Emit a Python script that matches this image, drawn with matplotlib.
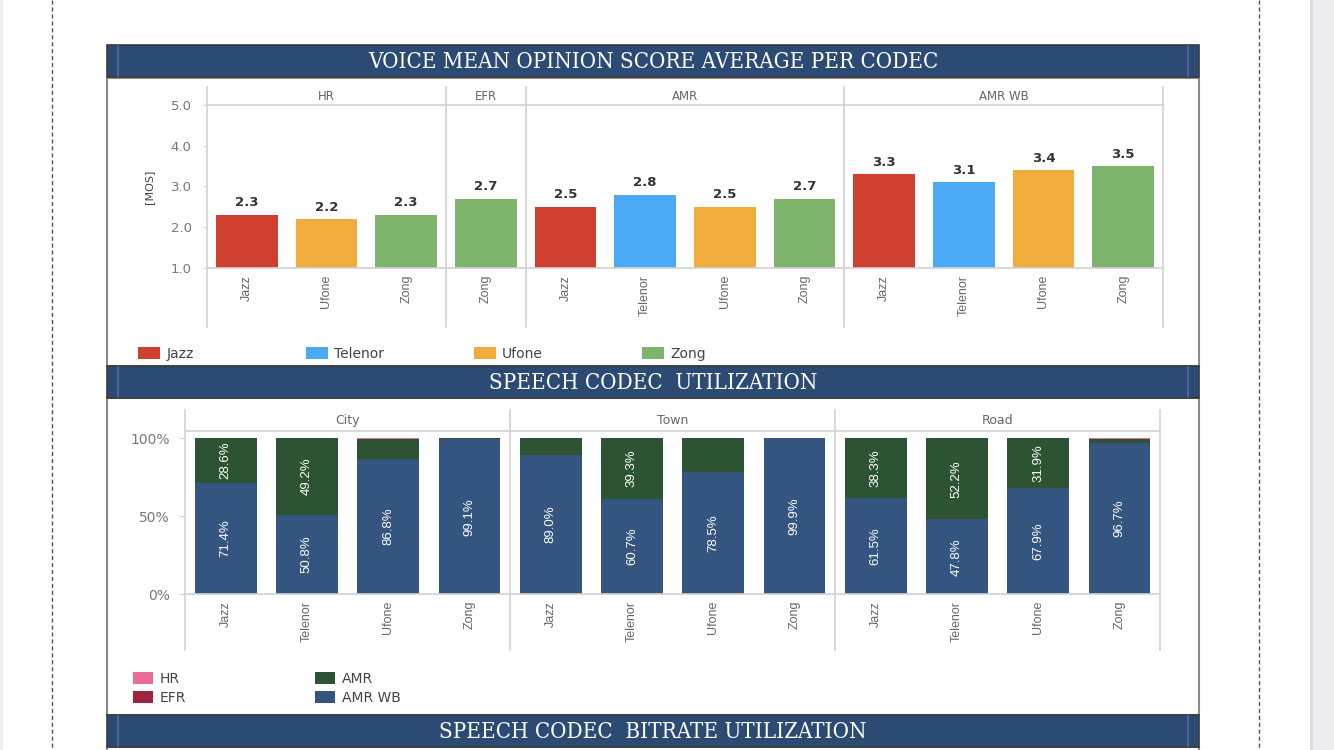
import matplotlib
matplotlib.use('Agg')
import matplotlib.pyplot as plt
import matplotlib.transforms as mtransforms
from matplotlib.patches import Rectangle, Patch
from matplotlib.lines import Line2D
import numpy as np

# ---------------- data ----------------
mos_codecs = ['HR', 'EFR', 'AMR', 'AMR WB']
mos_operators = [['Jazz', 'Ufone', 'Zong'],
                 ['Zong'],
                 ['Jazz', 'Telenor', 'Ufone', 'Zong'],
                 ['Jazz', 'Telenor', 'Ufone', 'Zong']]
mos_values = [[2.3, 2.2, 2.3],
              [2.7],
              [2.5, 2.8, 2.5, 2.7],
              [3.3, 3.1, 3.4, 3.5]]
mos_yticks = [1.0, 2.0, 3.0, 4.0, 5.0]

operators = ['Jazz', 'Telenor', 'Ufone', 'Zong']
op_colors = ['#cf4030', '#4ba9f6', '#f1ac3e', '#7fb46c']

environments = ['City', 'Town', 'Road']
codec_names = ['HR', 'EFR', 'AMR', 'AMR WB']
codec_colors = ['#e86c94', '#a0223e', '#2d5432', '#33557f']
share_amr_wb = [[71.4, 50.8, 86.8, 99.1],
                [89.0, 60.7, 78.5, 99.9],
                [61.5, 47.8, 67.9, 96.7]]
share_amr = [[28.6, 49.2, 12.6, 0.9],
             [11.0, 39.3, 21.5, 0.1],
             [38.3, 52.2, 31.9, 2.8]]
share_efr = [[0.0, 0.0, 0.0, 0.0],
             [0.0, 0.0, 0.0, 0.0],
             [0.0, 0.0, 0.0, 0.0]]
share_hr = [[0.0, 0.0, 0.6, 0.0],
            [0.0, 0.0, 0.0, 0.0],
            [0.2, 0.0, 0.2, 0.5]]
share_yticks = [0, 50, 100]
share_yticklabels = ['0%', '50%', '100%']

banner_titles = ['VOICE MEAN OPINION SCORE AVERAGE PER CODEC',
                 'SPEECH CODEC  UTILIZATION',
                 'SPEECH CODEC  BITRATE UTILIZATION']

# ---------------- layout helpers ----------------
W, H = 1334, 750
fig = plt.figure(figsize=(W / 100, H / 100), dpi=100)
fig.patch.set_facecolor('white')


def rect(x0, y0, x1, y1):
    return [x0 / W, 1 - y1 / H, (x1 - x0) / W, (y1 - y0) / H]


SANS = ['DejaVu Sans']
NARROW = ['Liberation Sans Narrow', 'Liberation Sans', 'DejaVu Sans']
GRID = '#d2d2d2'
TXT = '#666666'

# ---------------- page decoration ----------------
bg = fig.add_axes([0, 0, 1, 1])
bg.set_xlim(0, W)
bg.set_ylim(H, 0)
bg.axis('off')
bg.add_patch(Rectangle((0, 0), 3, H, fc='#efefef', ec='none'))
bg.add_patch(Rectangle((1310, 0), 24, H, fc='#ececef', ec='none'))
bg.add_patch(Rectangle((1310, 0), 3, H, fc='#dcdce0', ec='none'))
for xd in (51.5, 1258.5):
    bg.add_line(Line2D([xd, xd], [0, H], color='#555555', lw=1.0,
                       linestyle=(0, (3, 2))))

# white panels
for (y0, y1) in [(78, 366), (398, 715), (747, 752)]:
    bg.add_patch(Rectangle((107, y0), 1092, y1 - y0, fc='white',
                           ec='#8a8a8a', lw=1.5))
# banners
for (y0, title) in zip([45, 366, 715], banner_titles):
    bg.add_patch(Rectangle((107, y0), 1092, 32, fc='#2b4b74', ec='#3a3a3a', lw=1.2))
    for xl in (118, 1188):
        bg.add_line(Line2D([xl, xl], [y0 + 1, y0 + 31], color='#4f6f9a', lw=1.2))
    bg.text(653, y0 + 17, title, color='white', fontsize=16,
            family='DejaVu Serif', fontstretch='condensed', ha='center', va='center')

# ---------------- chart 1: MOS per codec ----------------
ax1 = fig.add_axes(rect(207, 105, 1163, 268))
xpos = []
xlabels = []
group_bounds = [-0.5]
i = 0
for g, (ops, vals) in enumerate(zip(mos_operators, mos_values)):
    for op, v in zip(ops, vals):
        c = op_colors[operators.index(op)]
        ax1.bar(i, v, width=0.77, color=c, zorder=2)
        ax1.annotate(f'{v:.1f}', (i, v), xytext=(0, 4), textcoords='offset points',
                     ha='center', va='bottom', fontsize=9.5, fontweight='bold',
                     color='#333333', family=SANS)
        xpos.append(i)
        xlabels.append(op)
        i += 1
    group_bounds.append(i - 0.5)
ax1.set_xlim(-0.5, i - 0.5)
ax1.set_ylim(1.0, 5.0)
ax1.set_yticks(mos_yticks)
ax1.set_yticklabels([f'{t:.1f}' for t in mos_yticks])
ax1.set_xticks(xpos)
ax1.set_xticklabels(xlabels, rotation=90, va='top', ha='center')
ax1.tick_params(axis='x', length=0, pad=5, labelsize=9, labelcolor=TXT)
ax1.tick_params(axis='y', length=3, color=GRID, pad=8, labelsize=9.5, labelcolor='#777777')
for lbl in ax1.get_xticklabels():
    lbl.set_family(NARROW)
for lbl in ax1.get_yticklabels():
    lbl.set_family(SANS)
for s in ('left', 'right'):
    ax1.spines[s].set_visible(False)
for s in ('top', 'bottom'):
    ax1.spines[s].set_color(GRID)
    ax1.spines[s].set_linewidth(1.2)
for b in group_bounds:
    ax1.axvline(b, ymin=-0.362, ymax=1.110, color=GRID, lw=1.2, clip_on=False)
trans1 = mtransforms.blended_transform_factory(ax1.transData, ax1.transAxes)
for g, name in enumerate(mos_codecs):
    ax1.text((group_bounds[g] + group_bounds[g + 1]) / 2, 1.055, name,
             transform=trans1, ha='center', va='center', fontsize=8.5,
             color=TXT, family=SANS)
ax1.set_ylabel('[MOS]', fontsize=8, color='#444444', family=SANS, labelpad=12)
ax1.set_facecolor('none')

for k, (op, c) in enumerate(zip(operators, op_colors)):
    fig.legend(handles=[Patch(fc=c, ec='none')], labels=[op],
               loc='center left', bbox_to_anchor=((138 + 168 * k) / W, 1 - 354 / H),
               frameon=False, prop={'family': SANS, 'size': 10},
               handlelength=1.58, handleheight=1.0, handletextpad=0.45,
               borderpad=0, borderaxespad=0, labelcolor='#444444')

# ---------------- chart 2: codec utilization ----------------
ax2 = fig.add_axes(rect(185, 431, 1160, 594))
wb = np.array(share_amr_wb).ravel()
am = np.array(share_amr).ravel()
ef = np.array(share_efr).ravel()
hr = np.array(share_hr).ravel()
x2 = np.arange(len(wb))
ax2.bar(x2, wb, width=0.76, color=codec_colors[3], zorder=2)
ax2.bar(x2, am, width=0.76, bottom=wb, color=codec_colors[2], zorder=2)
ax2.bar(x2, ef, width=0.76, bottom=wb + am, color=codec_colors[1], zorder=2)
ax2.bar(x2, hr, width=0.76, bottom=wb + am + ef, color=codec_colors[0], zorder=2)
for xi, v in zip(x2, wb):
    ax2.text(xi, v / 2, f'{v:.1f}%', rotation=90, ha='center', va='center',
             color='white', fontsize=9.5, family=NARROW, zorder=3)
for xi, b, v in zip(x2, wb, am):
    if v >= 25:
        ax2.text(xi, b + v / 2, f'{v:.1f}%', rotation=90, ha='center', va='center',
                 color='white', fontsize=9.5, family=NARROW, zorder=3)
n_ops = len(operators)
ax2.set_xlim(-0.5, len(wb) - 0.5)
ax2.set_ylim(0, 104.5)
ax2.set_yticks(share_yticks)
ax2.set_yticklabels(share_yticklabels)
ax2.set_xticks(x2)
ax2.set_xticklabels(operators * len(environments), rotation=90, va='top', ha='center')
ax2.tick_params(axis='x', length=0, pad=5, labelsize=9, labelcolor=TXT)
ax2.tick_params(axis='y', length=4, color=GRID, pad=7, labelsize=10, labelcolor='#777777')
for lbl in ax2.get_xticklabels():
    lbl.set_family(NARROW)
for lbl in ax2.get_yticklabels():
    lbl.set_family(SANS)
for s in ('left', 'right'):
    ax2.spines[s].set_visible(False)
for s in ('top', 'bottom'):
    ax2.spines[s].set_color(GRID)
    ax2.spines[s].set_linewidth(1.2)
bounds2 = [-0.5 + n_ops * e for e in range(len(environments) + 1)]
for b in bounds2:
    ax2.axvline(b, ymin=-0.344, ymax=1.129, color=GRID, lw=1.2, clip_on=False)
trans2 = mtransforms.blended_transform_factory(ax2.transData, ax2.transAxes)
for e, name in enumerate(environments):
    ax2.text((bounds2[e] + bounds2[e + 1]) / 2, 1.064, name, transform=trans2,
             ha='center', va='center', fontsize=9, color=TXT, family=SANS)
ax2.set_facecolor('none')

for col, idxs in enumerate([(0, 1), (2, 3)]):
    fig.legend(handles=[Patch(fc=codec_colors[j], ec='none') for j in idxs],
               labels=[codec_names[j] for j in idxs],
               loc='center left', bbox_to_anchor=((133 + 182 * col) / W, 1 - 688.5 / H),
               frameon=False, prop={'family': SANS, 'size': 10},
               handlelength=1.44, handleheight=0.94, handletextpad=0.5,
               labelspacing=0.38, borderpad=0, borderaxespad=0, labelcolor='#444444')

fig.savefig('out.png', dpi=100, facecolor='white')
